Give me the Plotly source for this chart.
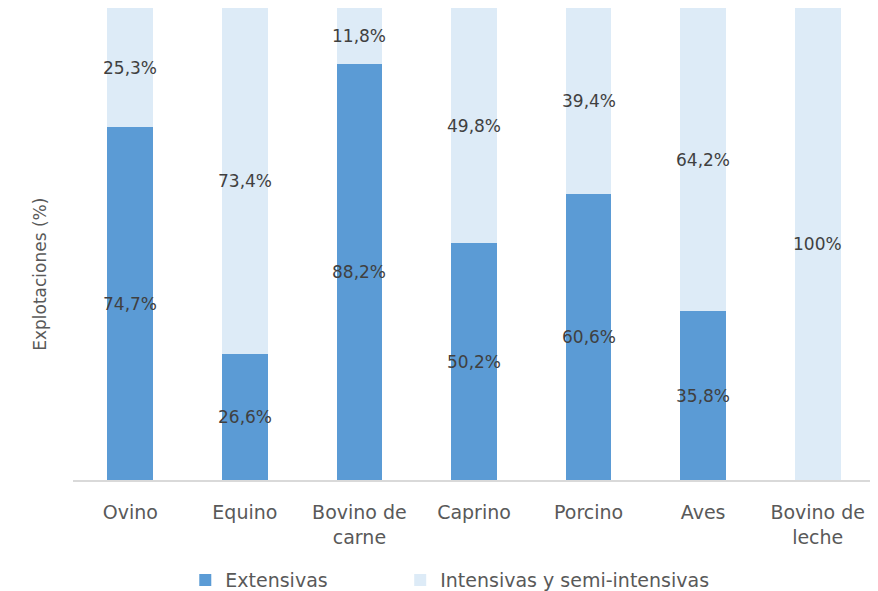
import plotly.graph_objects as go

categories = ["Ovino", "Equino", "Bovino de<br>carne", "Caprino", "Porcino", "Aves", "Bovino de<br>leche"]
extensivas = [74.7, 26.6, 88.2, 50.2, 60.6, 35.8, 0]
intensivas = [25.3, 73.4, 11.8, 49.8, 39.4, 64.2, 100]
ext_labels = ["74,7%", "26,6%", "88,2%", "50,2%", "60,6%", "35,8%", ""]
int_labels = ["25,3%", "73,4%", "11,8%", "49,8%", "39,4%", "64,2%", "100%"]

FONT = "DejaVu Sans"
TXT = "#404040"
GREY = "#595959"

fig = go.Figure()
fig.add_trace(go.Bar(x=categories, y=extensivas, name="Extensivas", legend="legend",
                     marker=dict(color="#5B9BD5", line=dict(width=0))))
fig.add_trace(go.Bar(x=categories, y=intensivas, name="Intensivas y semi-intensivas", legend="legend2",
                     marker=dict(color="#DDEBF7", line=dict(width=0))))

for c, e, i, el, il in zip(categories, extensivas, intensivas, ext_labels, int_labels):
    if el:
        fig.add_annotation(x=c, y=e / 2, text=el, showarrow=False,
                           font=dict(family=FONT, size=17, color=TXT))
    if il:
        fig.add_annotation(x=c, y=e + i / 2, text=il, showarrow=False,
                           font=dict(family=FONT, size=17, color=TXT))

fig.add_annotation(xref="paper", yref="paper", x=-0.041, y=0.435, text="Explotaciones (%)",
                   textangle=-90, showarrow=False, xanchor="center", yanchor="middle",
                   font=dict(family=FONT, size=17, color=GREY))

legend_common = dict(orientation="h", xanchor="left", y=-0.212, yanchor="middle",
                     font=dict(family=FONT, size=19, color=GREY), itemwidth=30,
                     bgcolor="rgba(0,0,0,0)")

fig.update_layout(
    width=870, height=583,
    margin=dict(l=65, r=3, t=0, b=111, autoexpand=False),
    barmode="stack", bargap=0.6,
    plot_bgcolor="white", paper_bgcolor="white",
    font=dict(family=FONT, size=19, color=GREY),
    showlegend=True,
    legend=dict(x=0.14, **legend_common),
    legend2=dict(x=0.408, **legend_common),
    xaxis=dict(showline=True, linecolor="#D9D9D9", linewidth=2, ticks="outside",
               ticklen=14, tickcolor="rgba(0,0,0,0)", tickfont=dict(size=19, color=GREY)),
    yaxis=dict(range=[0, 100], visible=False, showgrid=False),
)

fig.write_html("out.html")
